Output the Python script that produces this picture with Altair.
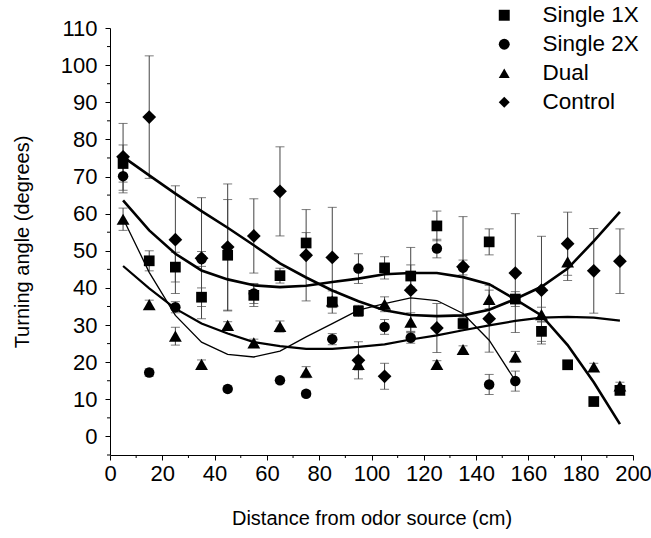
import altair as alt
import pandas as pd

# ---------------- data ----------------
X = [5, 15, 25, 35, 45, 55, 65, 75, 85, 95, 105, 115, 125, 135, 145, 155, 165, 175, 185, 195]

series_names = ["Single 1X", "Single 2X", "Dual", "Control"]
series_shapes = ["square", "circle", "triangle-up", "diamond"]
series_sizes = [115, 110, 165, 190]

s1_mean = [73.5, 47.3, 45.6, 37.5, 48.8, 38.0, 43.3, 52.1, 36.2, 33.8, 45.4, 43.2, 56.7, 30.4, 52.4, 37.0, 28.3, 19.3, 9.4, 12.4]
s1_err = [5.0, 2.7, 4.0, 2.5, 15.0, 3.0, 2.0, 2.8, 3.0, 1.5, 3.0, 3.0, 4.0, 1.5, 3.5, 2.0, 2.7, 0.8, 0.8, 0.8]

s2_x = X[:16]
s2_mean = [70.1, 17.2, 34.8, 47.8, 12.8, 38.5, 15.1, 11.5, 26.2, 45.2, 29.5, 26.6, 50.6, 45.5, 14.0, 14.9]
s2_err = [4.5, 1.0, 1.5, 2.0, 0.8, 2.7, 0.8, 0.8, 1.5, 4.0, 2.0, 1.5, 2.5, 2.0, 2.7, 2.7]

dual_mean = [58.5, 35.5, 27.0, 19.4, 29.9, 25.2, 29.6, 17.3, 36.5, 19.4, 35.6, 30.8, 19.4, 23.4, 36.9, 21.4, 32.8, 47.0, 18.7, 13.6]
dual_err = [3.0, 1.2, 2.4, 1.2, 1.0, 1.0, 1.5, 1.5, 1.0, 1.5, 2.0, 2.5, 1.0, 1.0, 2.5, 1.5, 2.0, 5.0, 1.0, 1.0]

ctrl_mean = [75.3, 86.0, 53.0, 48.0, 51.0, 54.0, 66.0, 48.8, 48.2, 20.5, 16.2, 39.4, 29.2, 45.7, 31.7, 44.0, 39.4, 51.9, 44.6, 47.2]
ctrl_err = [9.0, 16.5, 14.5, 16.3, 17.0, 10.0, 12.0, 12.3, 13.5, 5.0, 3.5, 11.5, 6.6, 13.5, 9.0, 16.0, 14.5, 8.5, 11.4, 8.7]

# fitted curves
fit_s1 = [63.6, 55.5, 49.2, 44.7, 42.3, 40.7, 40.2, 40.6, 41.6, 42.5, 43.7, 44.0, 44.0, 42.9, 41.0, 36.9, 32.6, 24.6, 14.6, 3.3]
fit_s2 = [58.7, 44.2, 32.6, 25.4, 22.1, 21.4, 23.0, 26.8, 30.4, 34.0, 35.8, 37.3, 36.6, 33.1, 25.9, 15.0]
fit_dual = [45.9, 39.9, 34.4, 30.4, 27.7, 25.4, 24.3, 23.6, 23.6, 24.1, 24.8, 26.1, 27.2, 28.6, 29.9, 31.1, 32.0, 32.2, 32.0, 31.2]
fit_ctrl = [75.3, 70.3, 65.4, 60.7, 56.2, 51.5, 46.6, 42.8, 39.3, 36.4, 34.0, 32.7, 32.4, 32.6, 34.1, 37.0, 40.3, 45.2, 52.6, 60.5]
fit_width = [2.6, 1.3, 2.2, 2.6]

y_major = [0, 10, 20, 30, 40, 50, 60, 70, 80, 90, 100, 110]
y_minor = [-5, 5, 15, 25, 35, 45, 55, 65, 75, 85, 95, 105]
x_major = [0, 20, 40, 60, 80, 100, 120, 140, 160, 180, 200]
x_minor = [10, 30, 50, 70, 90, 110, 130, 150, 170, 190]

# ---------------- tables ----------------
pt_rows = []
for name, xs, ms, es in [
    ("Single 1X", X, s1_mean, s1_err),
    ("Single 2X", s2_x, s2_mean, s2_err),
    ("Dual", X, dual_mean, dual_err),
    ("Control", X, ctrl_mean, ctrl_err),
]:
    sz = series_sizes[series_names.index(name)]
    for x, m, e in zip(xs, ms, es):
        pt_rows.append({"series": name, "x": x, "y": m, "lo": m - e, "hi": m + e, "sz": sz})
pts = pd.DataFrame(pt_rows)

fit_rows = []
for name, xs, ys, w in [
    ("Single 1X", X, fit_s1, fit_width[0]),
    ("Single 2X", s2_x, fit_s2, fit_width[1]),
    ("Dual", X, fit_dual, fit_width[2]),
    ("Control", X, fit_ctrl, fit_width[3]),
]:
    for x, y in zip(xs, ys):
        fit_rows.append({"series": name, "x": x, "y": y, "w": w})
fits = pd.DataFrame(fit_rows)

FONT = "Liberation Sans"

xscale = alt.Scale(domain=[0, 200], nice=False, zero=False)
yscale = alt.Scale(domain=[-5, 110], nice=False, zero=False)

xaxis = alt.Axis(values=x_major, tickSize=5, labelFontSize=22, labelPadding=3,
                 labelOverlap=False, labelBound=False, labelFlush=False,
                 title="Distance from odor source (cm)", titleFontSize=20,
                 titleFontWeight="normal", titlePadding=24, grid=False,
                 domainColor="black", tickColor="black", labelColor="black",
                 titleColor="black", labelFont=FONT, titleFont=FONT)
yaxis = alt.Axis(values=y_major, tickSize=5, labelFontSize=22, labelPadding=8,
                 labelOverlap=False, labelBound=False, labelFlush=False,
                 title="Turning angle (degrees)", titleFontSize=20,
                 titleFontWeight="normal", titlePadding=28, grid=False,
                 domainColor="black", tickColor="black", labelColor="black",
                 titleColor="black", labelFont=FONT, titleFont=FONT)


def X_(field):
    return alt.X(field, scale=xscale, axis=xaxis)


def Y_(field):
    return alt.Y(field, scale=yscale, axis=yaxis)


base = alt.Chart(pts)

err = base.mark_rule(color="#444444", strokeWidth=1).encode(
    x=X_("x:Q"), y=Y_("lo:Q"), y2="hi:Q",
)
cap_lo = base.mark_tick(color="#444444", orient="horizontal", size=9, thickness=1).encode(
    x=X_("x:Q"), y=Y_("lo:Q"))
cap_hi = base.mark_tick(color="#444444", orient="horizontal", size=9, thickness=1).encode(
    x=X_("x:Q"), y=Y_("hi:Q"))

lines = alt.Chart(fits).mark_line(color="black").encode(
    x=X_("x:Q"), y=Y_("y:Q"), detail="series:N",
    strokeWidth=alt.StrokeWidth("w:Q", scale=None, legend=None),
)

points = base.mark_point(filled=True, color="black", opacity=1).encode(
    x=X_("x:Q"), y=Y_("y:Q"),
    size=alt.Size("sz:Q", scale=None, legend=None),
    shape=alt.Shape("series:N",
                    scale=alt.Scale(domain=series_names, range=series_shapes),
                    sort=series_names,
                    legend=alt.Legend(title=None, orient="none", legendX=383, legendY=-24,
                                      labelFontSize=22.5, labelFont=FONT, labelColor="black",
                                      symbolSize=120, symbolFillColor="black",
                                      symbolStrokeColor="black", symbolStrokeWidth=0,
                                      labelOffset=27, rowPadding=6, padding=0)),
)

ymin = alt.Chart(pd.DataFrame({"v": y_minor})).mark_rule(color="black", strokeWidth=1).encode(
    y=Y_("v:Q"), x=alt.value(-3), x2=alt.value(0))
xmin = alt.Chart(pd.DataFrame({"v": x_minor})).mark_rule(color="black", strokeWidth=1).encode(
    x=X_("v:Q"), y=alt.value(427), y2=alt.value(430))

chart = alt.layer(err, cap_lo, cap_hi, lines, points, ymin, xmin).properties(
    width=523, height=427,
    autosize=alt.AutoSizeParams(type="none"),
    padding={"left": 110, "top": 28, "right": 18, "bottom": 83},
    background="white",
).configure_view(stroke=None).configure_axis(domainWidth=1, tickWidth=1)

chart.save("out.html", embed_options={"renderer": "svg", "actions": False})
